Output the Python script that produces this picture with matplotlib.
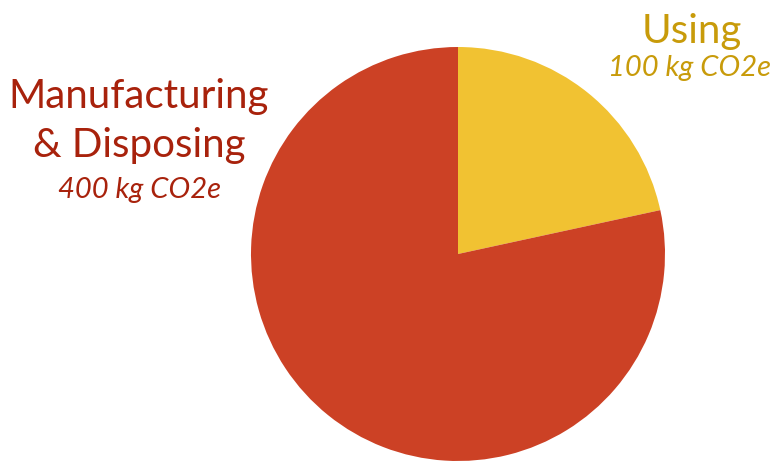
import matplotlib
matplotlib.use("Agg")
import matplotlib.pyplot as plt

categories = ["Using", "Manufacturing", "& Disposing"]
label_values = ["100 kg CO2e", "400 kg CO2e"]
slice_shares = [21.6, 78.4]
slice_colors = ["#F1C232", "#CC4125"]
text_colors = ["#C89B0A", "#A8220C"]

W, H = 774, 462
fig = plt.figure(figsize=(W / 100, H / 100), dpi=100)
ax = fig.add_axes([0, 0, 1, 1])
ax.set_xlim(0, W)
ax.set_ylim(0, H)
ax.set_aspect("equal")
ax.axis("off")

ax.pie(slice_shares, colors=slice_colors, startangle=90, counterclock=False,
       center=(458, H - 254), radius=207, wedgeprops=dict(linewidth=0))
ax.set_xlim(0, W)
ax.set_ylim(0, H)

font = ["Lato", "DejaVu Sans"]
# Using
ax.text(692, H - 43, categories[0], ha="center", va="baseline", fontsize=29,
        color=text_colors[0], family=font)
ax.text(690, H - 76, label_values[0], ha="center", va="baseline", fontsize=21,
        color=text_colors[0], family=font, style="italic")
# Manufacturing & Disposing
ax.text(139, H - 108, categories[1], ha="center", va="baseline", fontsize=29,
        color=text_colors[1], family=font)
ax.text(139, H - 157, categories[2], ha="center", va="baseline", fontsize=29,
        color=text_colors[1], family=font)
ax.text(139, H - 198, label_values[1], ha="center", va="baseline", fontsize=21,
        color=text_colors[1], family=font, style="italic")

fig.savefig("out.png", dpi=100)
